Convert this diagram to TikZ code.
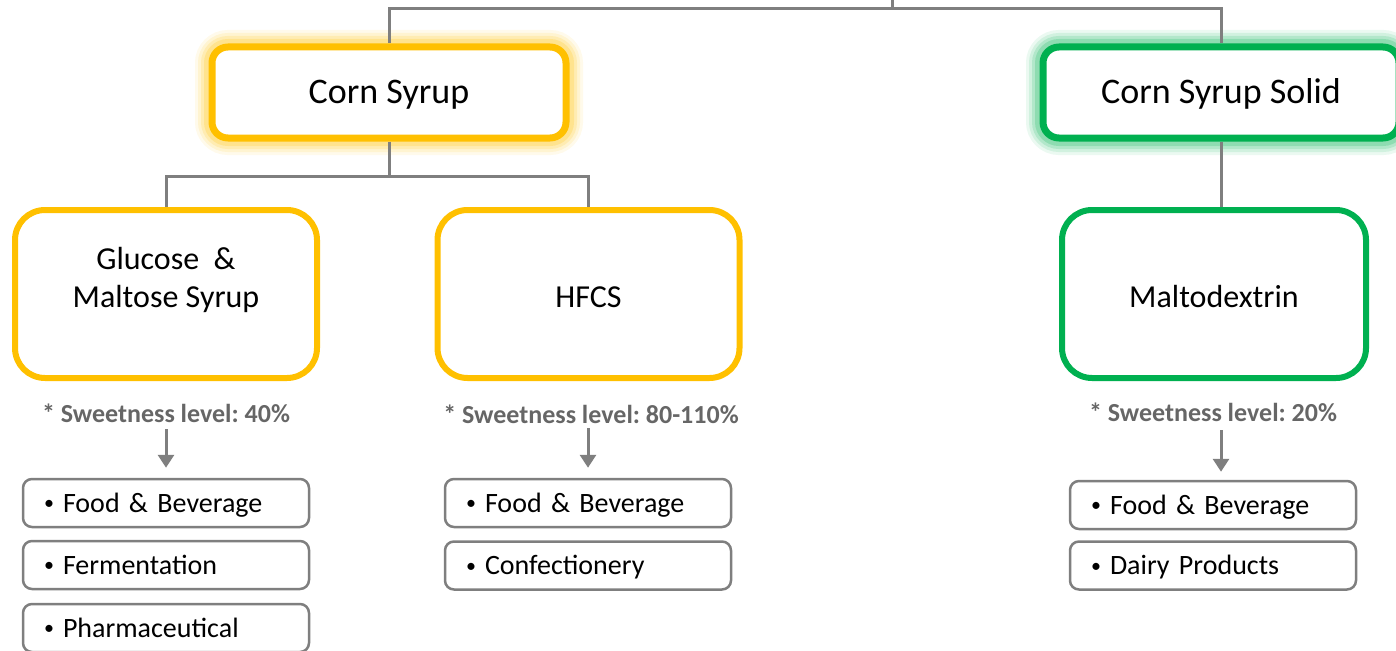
\documentclass[tikz,border=0pt]{standalone}
\usepackage{fontspec}
\setmainfont{Carlito}
\frenchspacing
\usetikzlibrary{arrows.meta}
\definecolor{cyel}{HTML}{FFC000}
\definecolor{cgrn}{HTML}{00B050}
\definecolor{cline}{HTML}{7F7F7F}
\definecolor{ctxt}{HTML}{666666}
\newcommand{\smallbullet}{\makebox[20pt][l]{\hspace{1pt}\raisebox{2.5pt}{\fontsize{20}{20}\selectfont•}}}
\begin{document}
\begin{tikzpicture}[x=1pt,y=-1pt,
  conn/.style={draw=cline,line width=3pt},
  arr/.style={conn,-{Triangle[width=16pt,length=13pt]}},
  glow/.style={
    preaction={draw=#1,line width=34pt,opacity=.08},
    preaction={draw=#1,line width=28pt,opacity=.11},
    preaction={draw=#1,line width=22pt,opacity=.15},
    preaction={draw=#1,line width=16pt,opacity=.2}},
  topbox/.style={draw=#1,line width=7pt,rounded corners=16pt,minimum width=354pt,
    minimum height=91pt,fill=white,font=\fontsize{36}{40}\selectfont,inner sep=0pt,
    text height=23pt,text depth=0pt},
  kidbox/.style={draw=#1,line width=6pt,rounded corners=30pt,minimum width=302pt,
    minimum height=168pt,fill=white,font=\fontsize{32}{38}\selectfont,align=center,inner sep=0pt,
    text height=27pt,text depth=0pt},
  note/.style={text=ctxt,font=\fontsize{26}{30}\selectfont\bfseries,inner sep=0pt,
    text height=17pt,text depth=0pt},
  item/.style={draw=cline,line width=2.5pt,rounded corners=9pt,minimum height=48pt,
    text width=246pt,inner xsep=20pt,inner ysep=0pt,align=left,
    font=\fontsize{28}{32}\selectfont,fill=white,text height=18pt,text depth=0pt},
]
\useasboundingbox (0,0) rectangle (1396,650);
\clip (0,0) rectangle (1396,650);

% top-level categories
\node[topbox=cyel,glow=cyel] (cs)  at (389,92.5)  {Corn Syrup};
\node[topbox=cgrn,glow=cgrn,minimum width=356pt] (css) at (1221,92.5) {Corn Syrup Solid};

% products
\node[kidbox=cyel] (gm) at (166,294) {Glucose\ \ \&\\Maltose Syrup};
\node[kidbox=cyel] (hf) at (588.5,294) {HFCS};
\node[kidbox=cgrn,minimum width=304pt] (md) at (1214,294) {Maltodextrin};

% sweetness notes
\node[note] (s1) at (166,414)   {* Sweetness level: 40\%};
\node[note] (s2) at (591,415)   {* Sweetness level: 80-110\%};
\node[note] (s3) at (1213,412.5) {* Sweetness level: 20\%};

% applications
\node[item] (f11) at (166,503)    {\smallbullet Food \& Beverage};
\node[item] (f12) at (166,565)    {\smallbullet Fermentation};
\node[item] (f13) at (166,628)    {\smallbullet Pharmaceutical};
\node[item] (f21) at (588,503)    {\smallbullet Food \& Beverage};
\node[item] (f22) at (588,565.5)  {\smallbullet Confectionery};
\node[item] (f31) at (1213,505)   {\smallbullet Food \& Beverage};
\node[item] (f32) at (1213,565.5) {\smallbullet Dairy Products};

% tree connectors
\coordinate (root) at (892,-5);
\coordinate (j0) at (892,9);
\coordinate (j1) at (389,176);
\draw[conn] (root) -- (j0) -| (cs.north);
\draw[conn] (j0) -| (css.north);
\draw[conn] (cs.south) -- (j1) -| (gm.north);
\draw[conn] (j1) -| (hf.north);
\draw[conn] (css.south) -- (css.south |- md.north);

% arrows to applications
\draw[arr,shorten <=6.5pt,shorten >=10pt] (s1.south) -- (f11.north);
\draw[arr,shorten <=4.5pt,shorten >=10pt] (s2.south -| f21.north) -- (f21.north);
\draw[arr,shorten <=9pt,shorten >=8pt] (s3.south -| css.south) -- (f31.north -| css.south);
\end{tikzpicture}
\end{document}
